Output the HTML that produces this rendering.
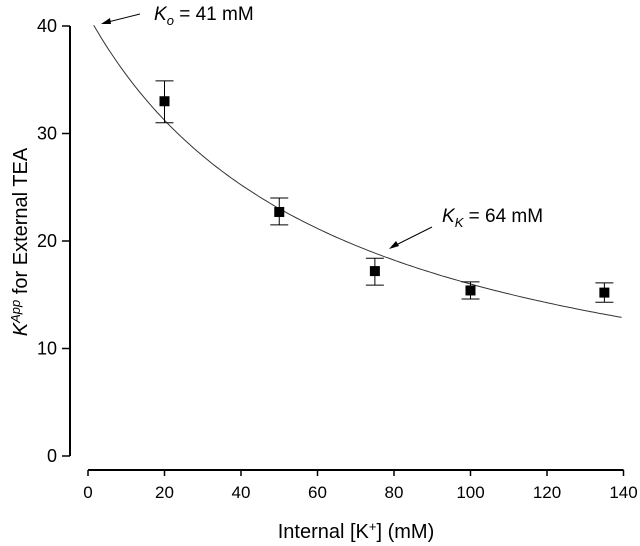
<!DOCTYPE html>
<html><head><meta charset="utf-8"><style>
html,body{margin:0;padding:0;background:#fff;}
svg{display:block;font-family:"Liberation Sans",Arial,sans-serif;}
</style></head><body>
<svg id="chart" width="640" height="546" viewBox="0 0 640 546" xmlns="http://www.w3.org/2000/svg"></svg>
<script>
const xTicks = [0,20,40,60,80,100,120,140];
const yTicks = [0,10,20,30,40];
const concK = [20,50,75,100,135];
const kApp = [33,22.7,17.2,15.4,15.2];
const errLow = [31,21.5,15.9,14.6,14.3];
const errHigh = [34.9,24,18.4,16.2,16.1];
const Ko = 41, Kk = 64;

const NS='http://www.w3.org/2000/svg';
const svg=document.getElementById('chart');
const sx=v=>88+v*3.825;
const sy=v=>456-v*10.75;
function mk(tag,attrs,parent){const e=document.createElementNS(NS,tag);for(const k in attrs)e.setAttribute(k,attrs[k]);(parent||svg).appendChild(e);return e;}

const ya=mk('g',{});


mk('line',{x1:70,y1:sy(40),x2:70,y2:sy(0),stroke:'#000','stroke-width':2},ya);
yTicks.forEach(t=>{
  mk('line',{x1:62,y1:sy(t),x2:70,y2:sy(t),stroke:'#000','stroke-width':1.5},ya);
  const tx=mk('text',{x:57,y:sy(t)+6,'text-anchor':'end','font-size':18},ya);
  
  
  tx.textContent=t;
});
const xa=mk('g',{});


mk('line',{x1:sx(0),y1:470,x2:sx(140),y2:470,stroke:'#000','stroke-width':2},xa);
xTicks.forEach(t=>{
  mk('line',{x1:sx(t),y1:470,x2:sx(t),y2:476,stroke:'#000','stroke-width':1.5},xa);
  const tx=mk('text',{x:sx(t),y:498,'text-anchor':'middle','font-size':17},xa);
  
  
  tx.textContent=t;
});
const xt=mk('text',{x:356,y:538,'text-anchor':'middle','font-size':20});


xt.innerHTML='Internal [K<tspan baseline-shift="super" font-size="13">+</tspan>] (mM)';
const yt=mk('text',{x:0,y:0,'text-anchor':'middle','font-size':20,transform:'translate(27,242) rotate(-90)'});


yt.innerHTML='<tspan font-style="italic">K</tspan><tspan baseline-shift="super" font-size="13" font-style="italic">App</tspan> for External TEA';

let d='';
for(let k=1.5;k<=140.01;k+=1){const v=Ko/(1+k/Kk);d+=(d?'L':'M')+sx(k).toFixed(1)+' '+sy(v).toFixed(1);}
const c=mk('path',{d:d,fill:'none',stroke:'#333','stroke-width':1});



concK.forEach((k,i)=>{
  const g=mk('g',{});
  
  
  const x=sx(k);
  mk('line',{x1:x,y1:sy(errLow[i]),x2:x,y2:sy(errHigh[i]),stroke:'#000','stroke-width':1},g);
  mk('line',{x1:x-9,y1:sy(errLow[i]),x2:x+9,y2:sy(errLow[i]),stroke:'#000','stroke-width':1},g);
  mk('line',{x1:x-9,y1:sy(errHigh[i]),x2:x+9,y2:sy(errHigh[i]),stroke:'#000','stroke-width':1},g);
  mk('rect',{x:x-5,y:sy(kApp[i])-5,width:10,height:10,fill:'#000'},g);
});

const a1=mk('g',{});


mk('line',{x1:140,y1:14,x2:104,y2:23,stroke:'#000','stroke-width':1},a1);
mk('path',{d:'M101 24 L110 18 L111 24 Z',fill:'#000'},a1);
const t1=mk('text',{x:154,y:20,'font-size':19},a1);
t1.innerHTML='<tspan font-style="italic">K</tspan><tspan font-style="italic" font-size="13" dy="5">o</tspan><tspan dy="-5"> = 41 mM</tspan>';
const a2=mk('g',{});


mk('line',{x1:432,y1:227,x2:392,y2:247,stroke:'#000','stroke-width':1},a2);
mk('path',{d:'M389 249 L396 241 L399 246 Z',fill:'#000'},a2);
const t2=mk('text',{x:442,y:222,'font-size':19},a2);
t2.innerHTML='<tspan font-style="italic">K</tspan><tspan font-style="italic" font-size="13" dy="5">K</tspan><tspan dy="-5"> = 64 mM</tspan>';
</script>
</body></html>
